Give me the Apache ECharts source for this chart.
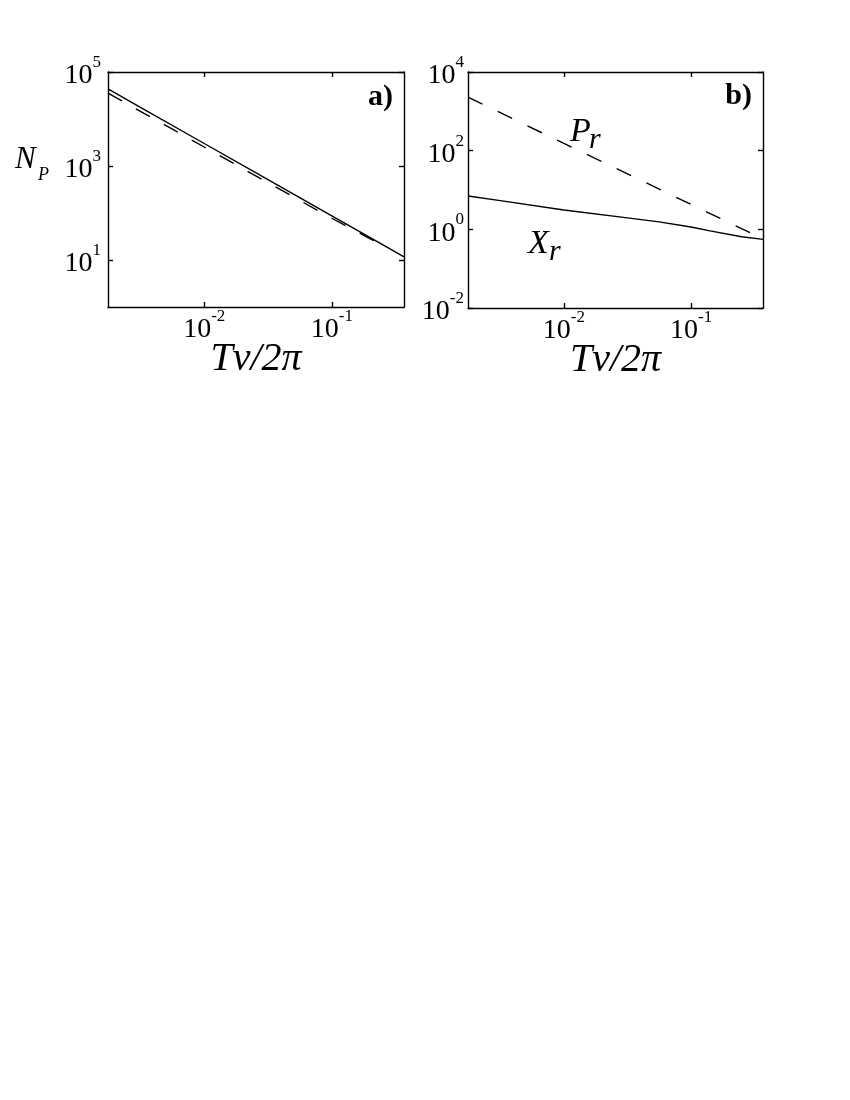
<!DOCTYPE html>
<html><head><meta charset="utf-8">
<script src="https://cdn.jsdelivr.net/npm/echarts@6/dist/echarts.min.js"></script>
<style>html,body{margin:0;padding:0;background:#fff}#c{width:850px;height:1100px}</style>
</head><body><div id="c"></div>
<script>
// shared x axis (Tν/2π)
const xRange = [0.00176, 0.368];
const xTickValues = [0.01, 0.1];
const xTitle = 'Tν/2π';

// panel a) N_P
const npX = [0.00176, 0.00316, 0.01, 0.0316, 0.1, 0.2, 0.26, 0.368];
const npSolid = [43650, 17740, 3013, 512, 86.7, 29.9, 19.9, 11.7];
const npDashedX = [0.00176, 0.00316, 0.01, 0.0316, 0.1, 0.2, 0.26];
const npDashed = [35480, 14590, 2535, 441, 77.3, 28.2, 19.9];
const aYRange = [1, 100000];
const aYTickValues = [10, 1000, 100000];

// panel b) P_r (dashed) and X_r (solid)
const prX = [0.00176, 0.01, 0.1, 0.306];
const prDashed = [2300, 153, 4.3, 0.76];
const xrX = [0.00176, 0.00316, 0.01, 0.0316, 0.056, 0.1, 0.141, 0.25, 0.368];
const xrSolid = [7.05, 5.37, 3.09, 1.95, 1.55, 1.15, 0.912, 0.646, 0.557];
const bYRange = [0.01, 10000];
const bYTickValues = [0.01, 1, 100, 10000];

const FONT = 'Liberation Serif';
const pairs = (xs, ys) => xs.map((x, i) => [x, ys[i]]);
const powLabel = v => {
  const l = Math.log10(v), e = Math.round(l);
  if (Math.abs(l - e) > 1e-6) return '';
  return '{n|10}{s|' + e + '}';
};
const rich = {
  n: {fontSize: 28, fontFamily: FONT, color: '#000', lineHeight: 36, verticalAlign: 'bottom'},
  s: {fontSize: 17, fontFamily: FONT, color: '#000', lineHeight: 17, verticalAlign: 'top'}
};
const lineSt = {color: '#000', width: 1.4};

function xAx(grid, range, pos, labels) {
  return {
    type: 'log', logBase: 10, gridIndex: grid, position: pos,
    min: range[0], max: range[1],
    axisLine: {show: true, lineStyle: lineSt},
    axisTick: {show: true, inside: true, length: 5, lineStyle: lineSt, customValues: xTickValues},
    axisLabel: labels ? {show: true, customValues: xTickValues, formatter: powLabel, rich: rich, margin: 1} : {show: false},
    splitLine: {show: false}, minorTick: {show: false},
    name: labels ? xTitle : '', nameLocation: 'middle', nameGap: 32, nameMoveOverlap: false,
    nameTextStyle: {fontSize: 40, fontStyle: 'italic', fontFamily: FONT, color: '#000'}
  };
}
function yAx(grid, range, ticks, pos, labels, margin) {
  return {
    type: 'log', logBase: 10, gridIndex: grid, position: pos,
    min: range[0], max: range[1],
    axisLine: {show: true, lineStyle: lineSt},
    axisTick: {show: true, inside: true, length: 5, lineStyle: lineSt, customValues: ticks},
    axisLabel: labels ? {show: true, customValues: ticks, formatter: powLabel, rich: rich, margin: margin} : {show: false},
    splitLine: {show: false}, minorTick: {show: false}
  };
}

const chart = echarts.init(document.getElementById('c'), null, {renderer: 'canvas'});
chart.setOption({
  backgroundColor: '#fff',
  animation: false,
  grid: [
    {left: 108, top: 72, width: 296, height: 235},
    {left: 468, top: 72, width: 295, height: 236}
  ],
  xAxis: [
    xAx(0, xRange, 'bottom', true),
    xAx(0, xRange, 'top', false),
    xAx(1, xRange, 'bottom', true),
    xAx(1, xRange, 'top', false)
  ],
  yAxis: [
    yAx(0, aYRange, aYTickValues, 'left', true, 7),
    yAx(0, aYRange, aYTickValues, 'right', false),
    yAx(1, bYRange, bYTickValues, 'left', true, 4),
    yAx(1, bYRange, bYTickValues, 'right', false)
  ],
  series: [
    {type: 'line', xAxisIndex: 0, yAxisIndex: 0, data: pairs(npX, npSolid), showSymbol: false, symbol: 'none',
     lineStyle: {color: '#000', width: 1.4, type: 'solid'}},
    {type: 'line', xAxisIndex: 0, yAxisIndex: 0, data: pairs(npDashedX, npDashed), showSymbol: false, symbol: 'none',
     lineStyle: {color: '#000', width: 1.4, type: [16, 16]}},
    {type: 'line', xAxisIndex: 2, yAxisIndex: 2, data: pairs(prX, prDashed), showSymbol: false, symbol: 'none',
     lineStyle: {color: '#000', width: 1.4, type: [16, 17]}},
    {type: 'line', xAxisIndex: 2, yAxisIndex: 2, data: pairs(xrX, xrSolid), showSymbol: false, symbol: 'none',
     lineStyle: {color: '#000', width: 1.4, type: 'solid'}}
  ],
  graphic: [
    {type: 'text', style: {text: 'a)', x: 393, y: 97, align: 'right', verticalAlign: 'middle', font: 'bold 30px "Liberation Serif"', fill: '#000'}},
    {type: 'text', style: {text: 'b)', x: 752, y: 96, align: 'right', verticalAlign: 'middle', font: 'bold 30px "Liberation Serif"', fill: '#000'}},
    {type: 'text', style: {text: 'N', x: 15, y: 160, align: 'left', verticalAlign: 'middle', font: 'italic 31px "Liberation Serif"', fill: '#000'}},
    {type: 'text', style: {text: 'P', x: 38, y: 175, align: 'left', verticalAlign: 'middle', font: 'italic 18px "Liberation Serif"', fill: '#000'}},
    {type: 'text', style: {text: 'P', x: 570, y: 132, align: 'left', verticalAlign: 'middle', font: 'italic 34px "Liberation Serif"', fill: '#000'}},
    {type: 'text', style: {text: 'r', x: 589, y: 140, align: 'left', verticalAlign: 'middle', font: 'italic 30px "Liberation Serif"', fill: '#000'}},
    {type: 'text', style: {text: 'X', x: 528, y: 244, align: 'left', verticalAlign: 'middle', font: 'italic 34px "Liberation Serif"', fill: '#000'}},
    {type: 'text', style: {text: 'r', x: 549, y: 252, align: 'left', verticalAlign: 'middle', font: 'italic 30px "Liberation Serif"', fill: '#000'}}
  ]
});
</script></body></html>
